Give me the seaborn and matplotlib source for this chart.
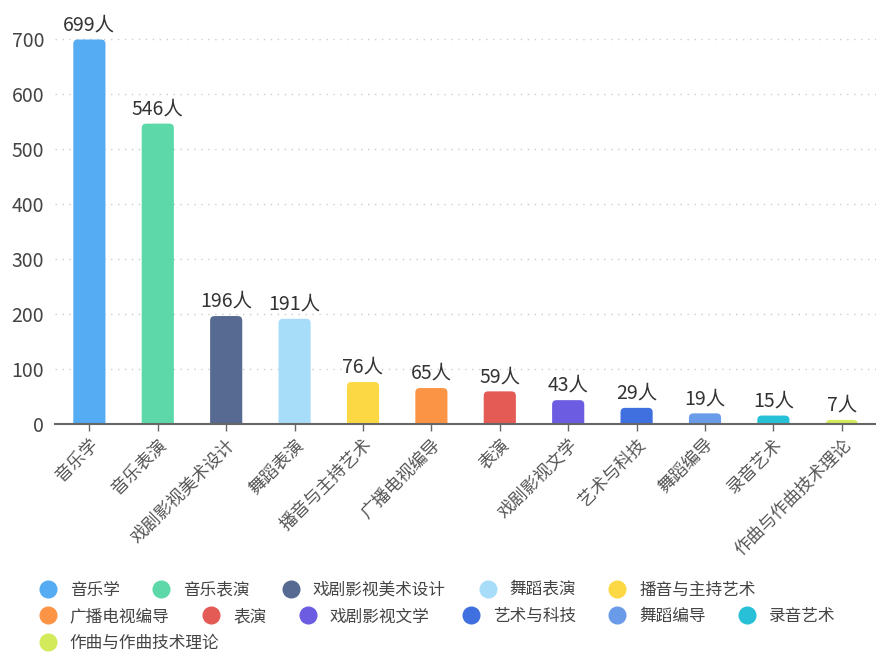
import seaborn as sns
import matplotlib.pyplot as plt
from matplotlib.lines import Line2D
from matplotlib.patches import FancyBboxPatch
import pandas as pd

majors = ['音乐学', '音乐表演', '戏剧影视美术设计', '舞蹈表演', '播音与主持艺术', '广播电视编导',
          '表演', '戏剧影视文学', '艺术与科技', '舞蹈编导', '录音艺术', '作曲与作曲技术理论']
counts = [699, 546, 196, 191, 76, 65, 59, 43, 29, 19, 15, 7]
colors = ['#55acf2', '#5dd8a9', '#566a92', '#a8ddf9', '#fcd944', '#fc9446',
          '#e45a55', '#6b5ce2', '#406fe0', '#6a9be9', '#27c0d7', '#d3ea5a']
legend_rows = [5, 6, 1]

sns.set_theme(style='white')
plt.rcParams['font.family'] = ['Noto Sans CJK SC', 'DejaVu Sans']

df = pd.DataFrame({'major': majors, 'count': counts})

fig = plt.figure(figsize=(8.76, 6.52), dpi=100)
ax = fig.add_axes([0.063, 0.35, 0.937, 0.624])
sns.barplot(data=df, x='major', y='count', hue='major', palette=colors,
            width=0.47, legend=False, ax=ax, saturation=1)

for c in ax.containers:
    ax.bar_label(c, fmt='{:.0f}人', padding=3, fontsize=14, color='#333333')

ax.set_ylim(0, 740)
ax.set_xlim(-0.5, 11.5)

# round the bar tops
(x0, y0), (x1, y1) = ax.transData.transform([(0, 0), (1, 1)])
aspect = (x1 - x0) / (y1 - y0)
r = 0.065
for p in list(ax.patches):
    x, w, h = p.get_x(), p.get_width(), p.get_height()
    fc = p.get_facecolor()
    p.remove()
    ax.add_patch(FancyBboxPatch((x, -r * aspect), w, h + r * aspect,
                                boxstyle=f'round,pad=0,rounding_size={r}',
                                mutation_aspect=aspect, facecolor=fc,
                                edgecolor='none', zorder=2))

ax.set_yticks(range(0, 701, 100))
ax.yaxis.grid(True, linestyle=(0, (1, 4)), color='#cccccc', linewidth=1)
ax.set_axisbelow(True)
sns.despine(ax=ax, left=True, top=True, right=True)
ax.spines['bottom'].set_color('#666666')
ax.spines['bottom'].set_linewidth(1.5)
ax.spines['bottom'].set_zorder(3)
ax.set_xlabel('')
ax.set_ylabel('')
ax.tick_params(axis='y', labelsize=14, labelcolor='#444444', length=0, pad=8)
ax.tick_params(axis='x', labelsize=12.5, labelcolor='#555555', bottom=True,
               length=5, color='#666666', width=1)
plt.setp(ax.get_xticklabels(), rotation=45, ha='right', rotation_mode='anchor')

handles = [Line2D([], [], marker='o', linestyle='', markersize=12,
                  markerfacecolor=col, markeredgecolor=col) for col in colors]
start = 0
for i, n in enumerate(legend_rows):
    fig.legend(handles[start:start + n], majors[start:start + n], ncol=n,
               loc='upper left', bbox_to_anchor=(0.036, 0.108 - i * 0.041),
               frameon=False, fontsize=12, handletextpad=0.3, columnspacing=1.5,
               borderaxespad=0, borderpad=0, labelcolor='#444444')
    start += n

fig.savefig('out.png', dpi=100)
